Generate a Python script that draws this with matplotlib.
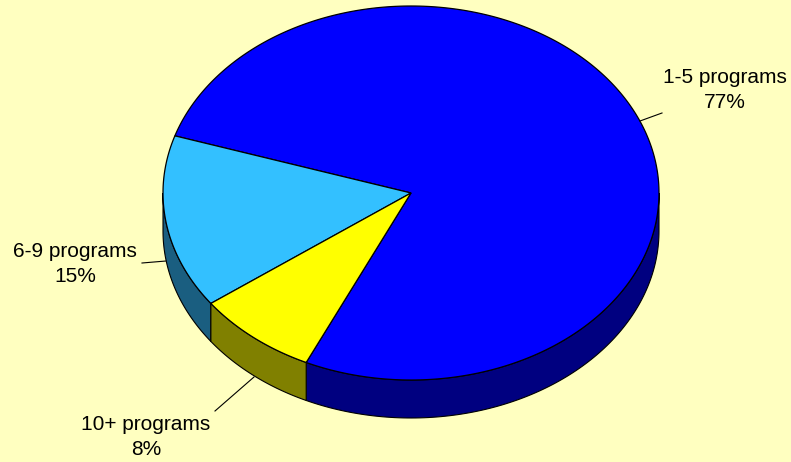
import numpy as np
import matplotlib.pyplot as plt
from matplotlib.patches import Polygon

labels = ['1-5 programs', '6-9 programs', '10+ programs']
shares = [77, 15, 8]
top_colors = ['#0000FF', '#33C0FF', '#FFFF00']
side_colors = ['#000080', '#1A5E80', '#808000']
start_angle = -115.0  # degrees, where the first slice begins (counter-clockwise)

# geometry of the drawing, in pixels
cx, cy = 411, 193
rx, ry = 248, 187
depth = 38
bg = '#FFFFC0'

fig = plt.figure(figsize=(7.91, 4.62), dpi=100, facecolor=bg)
ax = fig.add_axes([0, 0, 1, 1])
ax.set_facecolor(bg)
ax.set_xlim(0, 791)
ax.set_ylim(462, 0)
ax.axis('off')


def ell(t):
    t = np.radians(t)
    return cx + rx * np.cos(t), cy - ry * np.sin(t)


angles = start_angle + np.concatenate([[0], np.cumsum(shares)]) / sum(shares) * 360

# side walls (only the front half, 180..360 deg, is visible)
for i in range(len(shares)):
    a0, a1 = angles[i], angles[i + 1]
    for k in (-1, 0, 1):
        lo = max(a0, 180 + 360 * k)
        hi = min(a1, 360 + 360 * k)
        if hi <= lo:
            continue
        t = np.linspace(lo, hi, 120)
        x, y = ell(t)
        pts = np.column_stack([np.r_[x, x[::-1]], np.r_[y, y[::-1] + depth]])
        ax.add_patch(Polygon(pts, closed=True, facecolor=side_colors[i],
                             edgecolor='black', linewidth=0.8, zorder=1))

# top faces
for i in range(len(shares)):
    t = np.linspace(angles[i], angles[i + 1], 300)
    x, y = ell(t)
    pts = np.column_stack([np.r_[cx, x], np.r_[cy, y]])
    ax.add_patch(Polygon(pts, closed=True, facecolor=top_colors[i],
                         edgecolor='black', linewidth=0.9, zorder=2))

# labels with leader lines
label_pos = [(725, 90), (75, 264), (146, 437)]
line_pts = [((640, 121), (662, 113)), ((142, 263), (166, 261)), ((215, 411), (254, 377))]
for i in range(len(shares)):
    (x0, y0), (x1, y1) = line_pts[i]
    ax.plot([x0, x1], [y0, y1], color='black', linewidth=0.8, zorder=3)
    ax.text(*label_pos[i], f'{labels[i]}\n{shares[i]}%', ha='center', va='center',
            fontsize=15, family='Liberation Sans', linespacing=1.38, color='black')

fig.savefig('out.png', dpi=100, facecolor=bg)
